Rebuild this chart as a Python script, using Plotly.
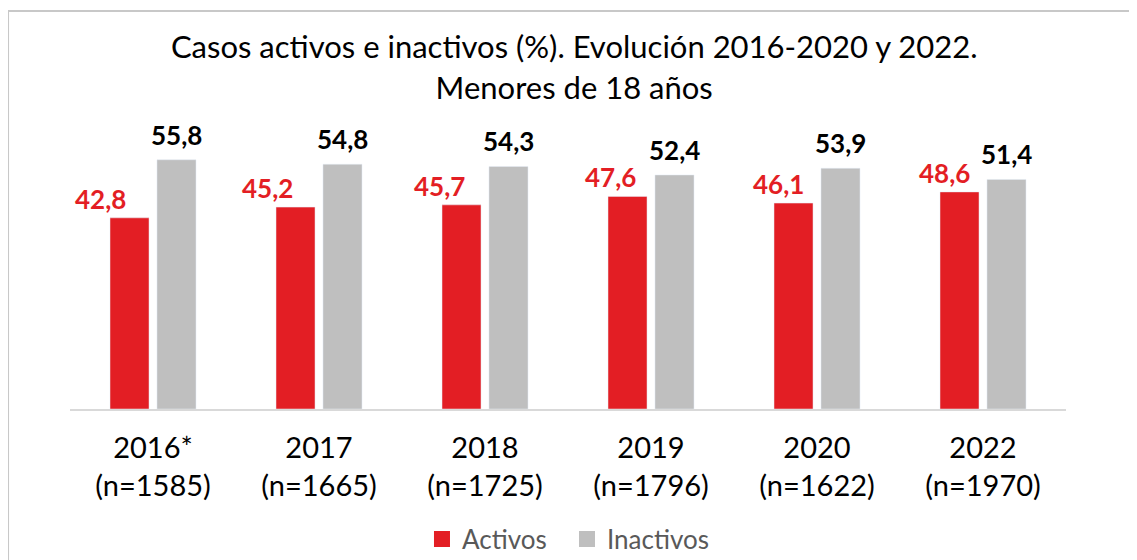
import plotly.graph_objects as go

# ---- data ----
years = ["2016*", "2017", "2018", "2019", "2020", "2022"]
n_values = [1585, 1665, 1725, 1796, 1622, 1970]
activos = [42.8, 45.2, 45.7, 47.6, 46.1, 48.6]
inactivos = [55.8, 54.8, 54.3, 52.4, 53.9, 51.4]
series_names = ["Activos", "Inactivos"]
title_lines = ["Casos activos e inactivos (%). Evolución 2016-2020 y 2022.", "Menores de 18 años"]

categories = [f"{y}<br>(n={n})" for y, n in zip(years, n_values)]

# ---- style ----
RED = "#e31e24"
GRAY = "#bfbfbf"
FONT = "Lato"
red_label_shift = [-53, -52, -46, -41, -39, -39]  # px, label placement (hand-placed in source)

fig = go.Figure()
fig.add_trace(go.Bar(x=categories, y=activos, name=series_names[0], marker_color=RED,
                     width=0.235, offset=-0.259, showlegend=False, hoverinfo="y"))
fig.add_trace(go.Bar(x=categories, y=inactivos, name=series_names[1], marker_color=GRAY,
                     width=0.235, offset=0.024, showlegend=False, hoverinfo="y"))
# legend entries (square markers)
fig.add_trace(go.Scatter(x=[None], y=[None], mode="markers", name=series_names[0], legend="legend",
                         marker=dict(symbol="square", size=16, color=RED)))
fig.add_trace(go.Scatter(x=[None], y=[None], mode="markers", name=series_names[1], legend="legend2",
                         marker=dict(symbol="square", size=16, color=GRAY)))

def fmt(v):
    return f"{v:.1f}".replace(".", ",")

annotations = []
for i, c in enumerate(categories):
    annotations.append(dict(x=c, y=activos[i], xref="x", yref="y", text=f"<b>{fmt(activos[i])}</b>",
                            showarrow=False, yanchor="bottom", xanchor="center",
                            xshift=red_label_shift[i], yshift=1,
                            font=dict(family=FONT, size=26, color=RED)))
    annotations.append(dict(x=c, y=inactivos[i], xref="x", yref="y", text=f"<b>{fmt(inactivos[i])}</b>",
                            showarrow=False, yanchor="bottom", xanchor="center",
                            xshift=23.5, yshift=7,
                            font=dict(family=FONT, size=26, color="#000000")))

legend_style = dict(orientation="h", y=-0.485, yanchor="middle", xanchor="left",
                    font=dict(family=FONT, size=26, color="#595959"), itemsizing="trace",
                    bgcolor="rgba(0,0,0,0)")

fig.update_layout(
    width=1137, height=560,
    margin=dict(l=62, r=79, t=133, b=159, autoexpand=False),
    paper_bgcolor="white", plot_bgcolor="white",
    title=dict(text="<br>".join(title_lines), x=0.498, xanchor="center", y=0.91, yanchor="top",
               font=dict(family=FONT, size=31, color="#000000")),
    barmode="group",
    showlegend=True,
    legend=dict(x=0.3534, **legend_style),
    legend2=dict(x=0.499, **legend_style),
    xaxis=dict(showline=True, linecolor="#d9d9d9", linewidth=2, showgrid=False,
               ticks="", ticklabelstandoff=12, automargin=False,
               tickfont=dict(family=FONT, size=29, color="#000000"), fixedrange=True),
    yaxis=dict(range=[0, 60], visible=False, showgrid=False, fixedrange=True, automargin=False),
    annotations=annotations,
    shapes=[dict(type="rect", xref="paper", yref="paper", x0=-0.0622, x1=1.075, y0=-0.6, y1=1.485,
                 line=dict(color="#c8c8c8", width=2), fillcolor="rgba(0,0,0,0)", layer="below")],
)

fig.write_html("out.html")
